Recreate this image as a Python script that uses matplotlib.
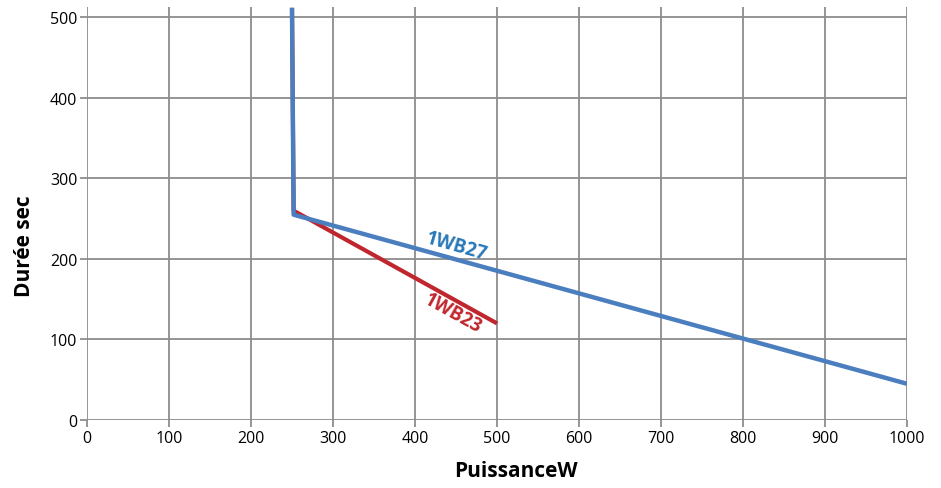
import matplotlib.pyplot as plt

# data
wb27_x = [250, 252, 1000]
wb27_y = [512, 255, 45]
wb23_x = [250, 252, 500]
wb23_y = [512, 260, 120]

xticks = [0, 100, 200, 300, 400, 500, 600, 700, 800, 900, 1000]
yticks = [0, 100, 200, 300, 400, 500]

plt.rcParams['font.family'] = ['Open Sans', 'DejaVu Sans']

fig = plt.figure(figsize=(9.41, 4.89), dpi=100)
ax = fig.add_axes([87/941, 68/489, 820/941, 413/489])

ax.plot(wb23_x, wb23_y, color='#C0262D', lw=3, solid_capstyle='butt', zorder=3)
ax.plot(wb27_x, wb27_y, color='#4A7EBE', lw=3.2, solid_capstyle='butt', zorder=4)

ax.set_xlim(0, 1000)
ax.set_ylim(0, 513)
ax.set_xticks(xticks)
ax.set_yticks(yticks)
ax.grid(True, color='#8c8c8c', lw=1.3)
ax.set_axisbelow(True)
for s in ax.spines.values():
    s.set_visible(False)
ax.tick_params(axis='both', length=5, width=1.3, color='#8c8c8c', labelsize=11.5, pad=2)

ax.text(451, 216, '1WB27', color='#2878B8', fontsize=13.5, fontweight='bold',
        rotation=-16, ha='center', va='center')
ax.text(446, 133, '1WB23', color='#C0262D', fontsize=13.5, fontweight='bold',
        rotation=-29, ha='center', va='center')

ax.set_xlabel('PuissanceW', fontsize=15, fontweight='bold')
ax.set_ylabel('Durée sec', fontsize=15, fontweight='bold')
ax.xaxis.set_label_coords(0.523, -0.097)
ax.yaxis.set_label_coords(-0.063, 0.424)

plt.savefig('out.png', dpi=100)
